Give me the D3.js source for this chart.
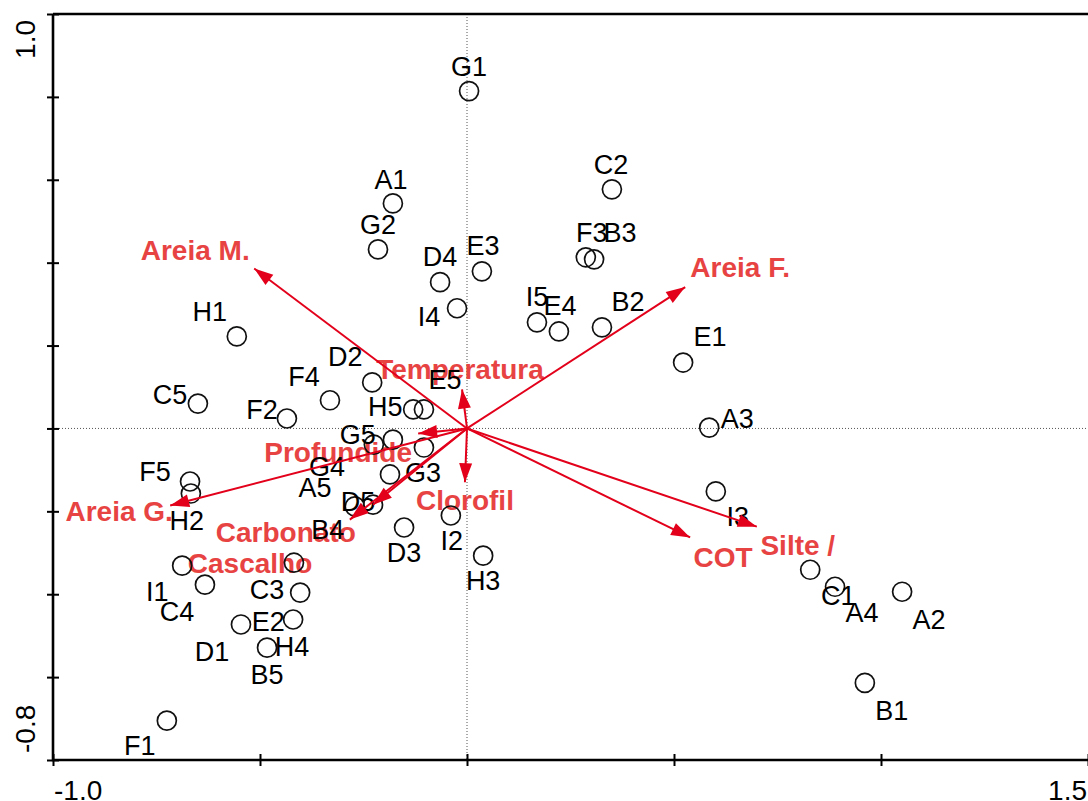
<!DOCTYPE html>
<html>
<head>
<meta charset="utf-8">
<script src="https://cdn.jsdelivr.net/npm/d3@7"></script>
<style>
  html, body { margin: 0; padding: 0; background: #fff; }
  svg { display: block; }
</style>
</head>
<body>
<svg id="biplot" width="1088" height="801"></svg>
<script>
// sample scores (axis 1, axis 2)
const samples = ['G1', 'C2', 'A1', 'G2', 'F3', 'B3', 'E3', 'D4', 'I4', 'I5', 'E4', 'B2', 'H1', 'E1', 'D2',
  'F4', 'C5', 'F2', 'H5', 'E5', 'A3', 'G5', 'G4', 'G3', 'A5', 'I3', 'F5', 'H2', 'B4', 'D5',
  'I2', 'D3', 'H3', 'I1', 'C3', 'C4', 'E2', 'D1', 'H4', 'B5', 'C1', 'A4', 'A2', 'B1', 'F1'];
const sampleX = [0.005, 0.350, -0.179, -0.215, 0.287, 0.307, 0.036, -0.065, -0.024, 0.169, 0.222, 0.326, -0.556, 0.522, -0.229,
  -0.331, -0.650, -0.435, -0.130, -0.104, 0.585, -0.225, -0.179, -0.104, -0.186, 0.601, -0.669, -0.667, -0.271, -0.227,
  -0.039, -0.152, 0.039, -0.688, -0.418, -0.633, -0.403, -0.546, -0.420, -0.483, 0.829, 0.889, 1.051, 0.961, -0.725];
const sampleY = [0.814, 0.577, 0.543, 0.432, 0.413, 0.408, 0.379, 0.353, 0.290, 0.256, 0.234, 0.244, 0.222, 0.159, 0.111,
  0.068, 0.060, 0.024, 0.046, 0.046, 0.002, -0.039, -0.027, -0.046, -0.111, -0.152, -0.128, -0.157, -0.188, -0.184,
  -0.210, -0.239, -0.307, -0.331, -0.324, -0.377, -0.396, -0.473, -0.461, -0.529, -0.341, -0.382, -0.394, -0.614, -0.705];

// environmental variables (arrow tips)
const envVars = ['Areia M.', 'Areia F.', 'Temperatura', 'Profundide', 'Clorofil', 'Areia G.', 'Carbonato', 'Cascalho', 'COT', 'Silte /'];
const envX = [-0.514, 0.527, -0.012, -0.118, -0.005, -0.717, -0.283, -0.227, 0.539, 0.700];
const envY = [0.386, 0.341, 0.094, -0.012, -0.130, -0.186, -0.220, -0.184, -0.263, -0.237];

const xTicks = [-1.0, -0.5, 0, 0.5, 1.0, 1.5];
const yTicks = [1.0, 0.8, 0.6, 0.4, 0.2, 0, -0.2, -0.4, -0.6, -0.8];
const xTickLabels = { '-1': '-1.0', '1.5': '1.5' };
const yTickLabels = { '1': '1.0', '-0.8': '-0.8' };

// label placement (pixel offsets from point)
const sampleLabelOffset = {
  G1: [0, -25], C2: [-1, -25], A1: [-2, -24], G2: [0, -25], F3: [6, -25], B3: [26, -27], E3: [1, -26],
  D4: [0, -26], I4: [-28, 8], I5: [0, -26], E4: [1, -26], B2: [26, -26], H1: [-27, -25], E1: [27, -26],
  D2: [-27, -26], F4: [-26, -24], C5: [-28, -9], F2: [-25, -9], H5: [-28, -3], E5: [21, -30], A3: [28, -9],
  G5: [-16, -10], G4: [-66, 27], G3: [-1, 25], A5: [-75, 13], I3: [22, 25], F5: [-35, -10], H2: [-4, 27],
  B4: [-27, 23], D5: [-15, -3], I2: [1, 25], D3: [0, 25], H3: [0, 25], I1: [-25, 26], C3: [-27, 27],
  C4: [-28, 27], E2: [-32, 29], D1: [-29, 27], H4: [-1, 27], B5: [0, 27], C1: [28, 26], A4: [27, 26],
  A2: [27, 28], B1: [27, 27], F1: [-27, 25]
};
const envLabelOffset = {
  'Areia M.': [-59, -19], 'Areia F.': [55, -20], 'Temperatura': [-2, -21], 'Profundide': [-80, 19],
  'Clorofil': [0, 18], 'Areia G.': [-51, 5], 'Carbonato': [-64, 12], 'Cascalho': [-123, 58],
  'COT': [33, 19], 'Silte /': [41, 18]
};

const width = 1088, height = 801;
const svg = d3.select('#biplot');
const font = "'Liberation Sans', Arial, sans-serif";
const red = '#e2001a';
const redText = '#e84343';

const x = d3.scaleLinear().domain([-1.0, 1.5]).range([53, 1088]);
const y = d3.scaleLinear().domain([-0.8, 1.0]).range([760, 14]);

// zero lines
svg.append('line')
  .attr('x1', x(0)).attr('x2', x(0)).attr('y1', y(1.0)).attr('y2', y(-0.8))
  .attr('stroke', '#555').attr('stroke-width', 1).attr('stroke-dasharray', '1,2');
svg.append('line')
  .attr('x1', x(-1.0)).attr('x2', x(1.5)).attr('y1', y(0)).attr('y2', y(0))
  .attr('stroke', '#555').attr('stroke-width', 1).attr('stroke-dasharray', '1,2');

// axes: ticks cross the axis line
const yAxis = svg.append('g')
  .attr('transform', `translate(${x(-1.0) + 6},0)`)
  .call(d3.axisLeft(y).tickValues(yTicks).tickSize(12).tickFormat(''));
const xAxis = svg.append('g')
  .attr('transform', `translate(0,${y(-0.8) - 6})`)
  .call(d3.axisBottom(x).tickValues(xTicks).tickSize(12).tickFormat(''));
[yAxis, xAxis].forEach(g => {
  g.select('.domain').remove();
  g.selectAll('.tick line').attr('stroke', '#000').attr('stroke-width', 2);
});

svg.append('path')
  .attr('d', `M${x(-1.0)},${y(1.0)}H${x(1.5)}M${x(-1.0)},${y(1.0)}V${y(-0.8)}H${x(1.5)}`)
  .attr('fill', 'none').attr('stroke', '#000').attr('stroke-width', 2.6);

// tick labels
svg.append('g').selectAll('text')
  .data(xTicks.filter(d => xTickLabels[String(d)]))
  .join('text')
  .attr('x', d => x(d) + (d === -1 ? 1 : -1))
  .attr('y', 800)
  .attr('text-anchor', d => d === -1 ? 'start' : 'end')
  .attr('font-family', font).attr('font-size', 28)
  .text(d => xTickLabels[String(d)]);

svg.append('g').selectAll('text')
  .data(yTicks.filter(d => yTickLabels[String(d)]))
  .join('text')
  .attr('transform', d => `translate(35,${d === 1 ? y(d) + 6 : y(d) - 7}) rotate(-90)`)
  .attr('text-anchor', d => d === 1 ? 'end' : 'start')
  .attr('font-family', font).attr('font-size', 28)
  .text(d => yTickLabels[String(d)]);

const env = envVars.map((name, i) => ({ name, x: envX[i], y: envY[i] }));
const pts = samples.map((name, i) => ({ name, x: sampleX[i], y: sampleY[i] }));

// arrow labels
svg.append('g')
  .attr('font-family', font).attr('font-size', 28).attr('font-weight', 'bold')
  .attr('fill', redText).attr('text-anchor', 'middle')
  .selectAll('text')
  .data(env)
  .join('text')
  .attr('x', d => x(d.x) + envLabelOffset[d.name][0])
  .attr('y', d => y(d.y) + envLabelOffset[d.name][1])
  .attr('dy', '0.36em')
  .text(d => d.name);

// sample circles
svg.append('g')
  .selectAll('circle')
  .data(pts)
  .join('circle')
  .attr('cx', d => x(d.x))
  .attr('cy', d => y(d.y))
  .attr('r', 9.5)
  .attr('fill', 'none')
  .attr('stroke', '#111')
  .attr('stroke-width', 1.7);

// sample labels
svg.append('g')
  .attr('font-family', font).attr('font-size', 27)
  .attr('fill', '#000').attr('text-anchor', 'middle')
  .selectAll('text')
  .data(pts)
  .join('text')
  .attr('x', d => x(d.x) + sampleLabelOffset[d.name][0])
  .attr('y', d => y(d.y) + sampleLabelOffset[d.name][1])
  .attr('dy', '0.36em')
  .text(d => d.name);

// arrows
const arrows = svg.append('g').selectAll('g').data(env).join('g');
arrows.append('line')
  .attr('x1', x(0)).attr('y1', y(0))
  .attr('x2', d => x(d.x)).attr('y2', d => y(d.y))
  .attr('stroke', red).attr('stroke-width', 2);
arrows.append('path')
  .attr('d', 'M0,0L-19,-6.5L-19,6.5Z')
  .attr('fill', red)
  .attr('transform', d => {
    const ang = Math.atan2(y(d.y) - y(0), x(d.x) - x(0)) * 180 / Math.PI;
    return `translate(${x(d.x)},${y(d.y)}) rotate(${ang})`;
  });
</script>
</body>
</html>
